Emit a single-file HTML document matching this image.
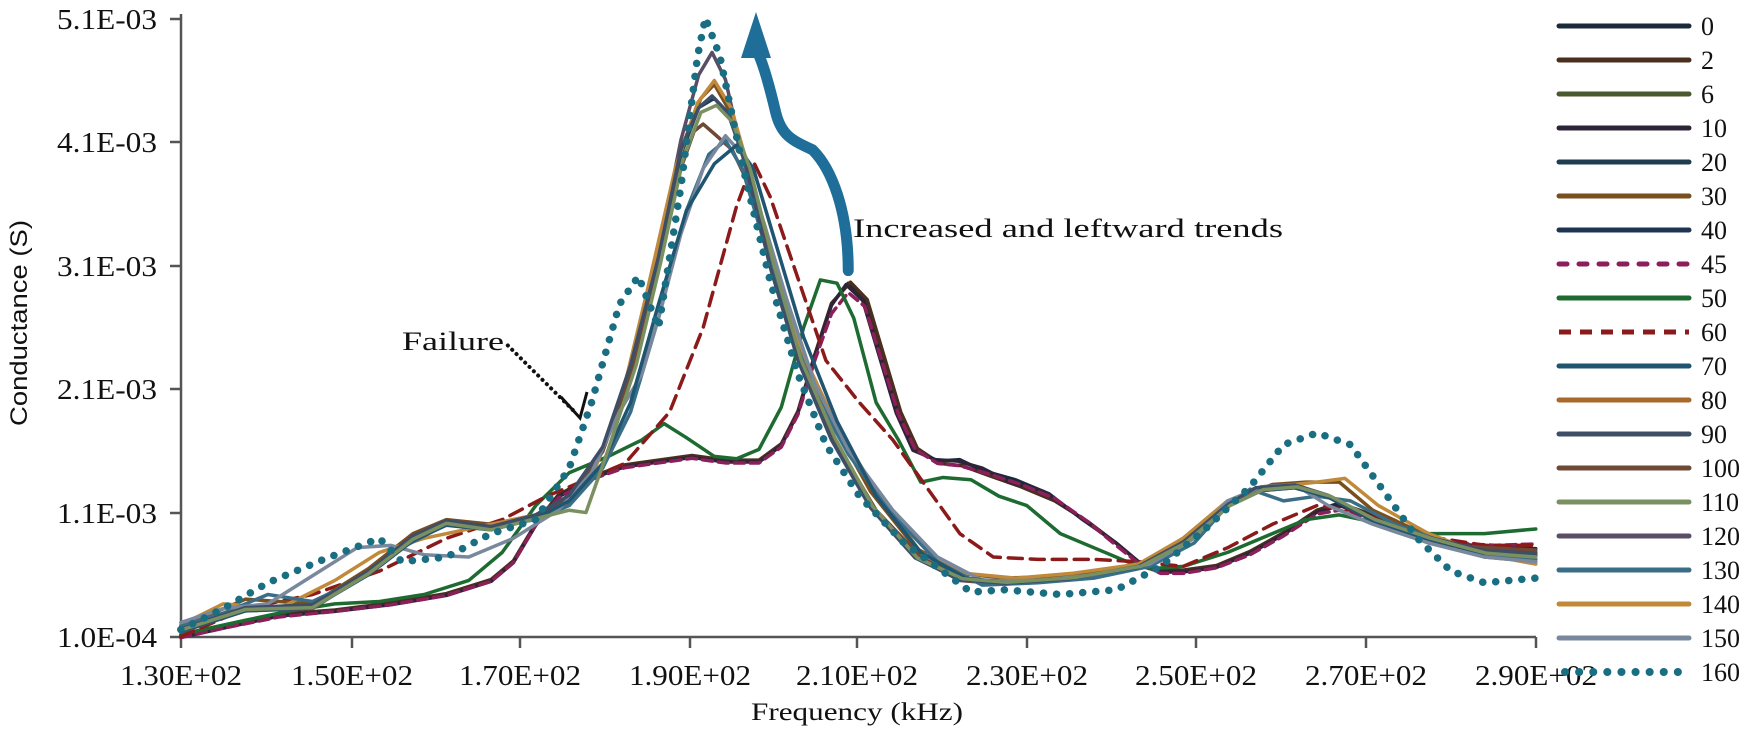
<!DOCTYPE html>
<html><head><meta charset="utf-8"><style>
html,body{margin:0;padding:0;background:#fff;}
svg{display:block;}
text{font-family:"Liberation Serif",serif;fill:#111;}
</style></head><body>
<svg width="1750" height="734" viewBox="0 0 1750 734" xmlns="http://www.w3.org/2000/svg">
<g stroke="#555" stroke-width="2.5" fill="none">
<line x1="181" y1="14" x2="181" y2="637"/>
<line x1="181" y1="637" x2="1536" y2="637"/>
<line x1="170" y1="19" x2="181" y2="19"/><line x1="170" y1="142" x2="181" y2="142"/><line x1="170" y1="266" x2="181" y2="266"/><line x1="170" y1="389" x2="181" y2="389"/><line x1="170" y1="513" x2="181" y2="513"/><line x1="170" y1="637" x2="181" y2="637"/>
<line x1="181" y1="637" x2="181" y2="648"/><line x1="352" y1="637" x2="352" y2="648"/><line x1="520" y1="637" x2="520" y2="648"/><line x1="690" y1="637" x2="690" y2="648"/><line x1="857" y1="637" x2="857" y2="648"/><line x1="1027" y1="637" x2="1027" y2="648"/><line x1="1196" y1="637" x2="1196" y2="648"/><line x1="1366" y1="637" x2="1366" y2="648"/><line x1="1536" y1="637" x2="1536" y2="648"/>
</g>
<g font-size="29" text-anchor="end">
<text x="157" y="29" textLength="100" lengthAdjust="spacingAndGlyphs">5.1E-03</text>
<text x="157" y="152" textLength="100" lengthAdjust="spacingAndGlyphs">4.1E-03</text>
<text x="157" y="276" textLength="100" lengthAdjust="spacingAndGlyphs">3.1E-03</text>
<text x="157" y="399" textLength="100" lengthAdjust="spacingAndGlyphs">2.1E-03</text>
<text x="157" y="523" textLength="100" lengthAdjust="spacingAndGlyphs">1.1E-03</text>
<text x="157" y="647" textLength="100" lengthAdjust="spacingAndGlyphs">1.0E-04</text>
</g>
<g font-size="29" text-anchor="middle">
<text x="181" y="685" textLength="122" lengthAdjust="spacingAndGlyphs">1.30E+02</text>
<text x="352" y="685" textLength="122" lengthAdjust="spacingAndGlyphs">1.50E+02</text>
<text x="520" y="685" textLength="122" lengthAdjust="spacingAndGlyphs">1.70E+02</text>
<text x="690" y="685" textLength="122" lengthAdjust="spacingAndGlyphs">1.90E+02</text>
<text x="857" y="685" textLength="122" lengthAdjust="spacingAndGlyphs">2.10E+02</text>
<text x="1027" y="685" textLength="122" lengthAdjust="spacingAndGlyphs">2.30E+02</text>
<text x="1196" y="685" textLength="122" lengthAdjust="spacingAndGlyphs">2.50E+02</text>
<text x="1366" y="685" textLength="122" lengthAdjust="spacingAndGlyphs">2.70E+02</text>
<text x="1536" y="685" textLength="122" lengthAdjust="spacingAndGlyphs">2.90E+02</text>
<text x="857" y="720" font-size="25" textLength="212" lengthAdjust="spacingAndGlyphs">Frequency (kHz)</text>
</g>
<text transform="translate(27,323) rotate(-90)" font-size="24" text-anchor="middle" textLength="206" lengthAdjust="spacingAndGlyphs" style="font-family:'Liberation Sans',sans-serif">Conductance (S)</text>

<g transform="scale(1.1161,0.4681)" fill="none" stroke-linejoin="round" stroke-linecap="round">
<g stroke-width="3.5">
<polyline vector-effect="non-scaling-stroke" stroke="#1b2a3a" points="162,1360 200,1340 250,1315 300,1305 350,1290 400,1270 440,1240 460,1200 480,1120 500,1060 530,1020 560,995 590,985 620,975 650,985 680,985 700,950 715,880 730,760 745,650 760,605 775,640 790,760 805,880 820,960 840,985 860,982 880,1005 910,1025 940,1055 970,1110 1000,1160 1020,1200 1040,1220 1060,1220 1090,1210 1120,1180 1150,1140 1180,1090 1200,1075 1230,1100 1260,1130 1300,1160 1340,1170 1376,1172"/>
<polyline vector-effect="non-scaling-stroke" stroke="#4a2e1e" points="162,1358 200,1338 250,1312 300,1303 350,1288 400,1268 440,1238 460,1198 480,1118 500,1058 530,1018 560,993 590,983 620,973 650,983 680,983 700,948 715,878 730,758 745,648 762,603 777,640 792,760 807,880 822,958 842,990 862,995 885,1015 915,1040 945,1070 975,1115 1000,1160 1020,1200 1040,1218 1060,1218 1090,1208 1120,1178 1150,1138 1180,1090 1205,1080 1235,1105 1265,1135 1300,1160 1340,1175 1376,1180"/>
<polyline vector-effect="non-scaling-stroke" stroke="#2e2438" points="162,1362 200,1342 250,1316 300,1306 350,1292 400,1272 440,1242 460,1202 480,1122 500,1062 530,1022 560,997 590,987 620,977 650,987 680,987 700,952 715,882 730,762 745,652 758,608 773,642 788,762 803,882 818,962 838,982 858,985 880,1000 905,1030 935,1050 965,1100 1000,1160 1020,1200 1040,1222 1060,1222 1090,1212 1120,1182 1150,1142 1180,1094 1200,1080 1230,1104 1260,1134 1300,1165 1340,1178 1376,1182"/>
<polyline vector-effect="non-scaling-stroke" stroke="#8b1f5a" stroke-dasharray="10,6" points="162,1362 200,1342 250,1318 300,1306 350,1292 400,1272 440,1242 460,1202 480,1122 500,1064 530,1024 560,999 590,989 620,979 650,989 680,989 700,955 715,885 730,770 745,670 760,625 775,655 790,770 805,885 820,960 840,990 860,995 885,1012 915,1035 945,1065 975,1115 1000,1165 1020,1203 1040,1225 1060,1225 1090,1213 1120,1185 1150,1145 1180,1098 1200,1090 1230,1110 1260,1138 1300,1160 1340,1165 1376,1162"/>
<polyline vector-effect="non-scaling-stroke" stroke="#1e6b32" points="162,1355 220,1325 260,1305 300,1290 340,1285 380,1270 420,1240 450,1180 480,1080 510,1010 545,975 575,940 595,905 615,935 640,975 660,980 680,960 700,870 720,700 735,598 750,605 765,680 785,860 805,940 825,1030 845,1020 870,1025 895,1060 920,1080 950,1140 980,1170 1010,1200 1030,1215 1060,1210 1100,1180 1140,1140 1170,1110 1200,1100 1240,1120 1280,1140 1330,1140 1376,1130"/>
<polyline vector-effect="non-scaling-stroke" stroke="#8b1a1a" stroke-dasharray="14,8" points="162,1360 220,1300 280,1270 340,1220 400,1150 450,1110 490,1060 520,1030 560,990 600,880 630,700 660,440 675,345 690,420 710,560 740,770 770,860 800,940 830,1040 860,1140 890,1190 930,1195 980,1195 1020,1200 1060,1210 1100,1170 1140,1120 1180,1080 1210,1090 1250,1120 1290,1150 1330,1165 1376,1165"/>
<polyline vector-effect="non-scaling-stroke" stroke="#1e3e50" points="162,1345 220,1300 280,1295 330,1225 370,1150 400,1118 440,1130 480,1105 510,1060 540,960 565,790 590,560 610,330 626,230 640,210 655,250 670,350 690,560 715,760 745,930 780,1080 820,1190 860,1235 900,1245 960,1235 1020,1210 1060,1160 1100,1080 1130,1045 1160,1040 1190,1060 1230,1110 1280,1150 1330,1180 1376,1185"/>
<polyline vector-effect="non-scaling-stroke" stroke="#7a4f1e" points="162,1340 220,1280 280,1290 330,1215 370,1140 400,1110 440,1120 480,1100 510,1075 540,960 565,780 590,540 610,320 628,210 640,180 652,230 668,340 690,560 715,740 745,900 780,1050 820,1170 860,1225 900,1235 960,1230 1020,1208 1060,1150 1100,1070 1140,1035 1170,1030 1200,1030 1230,1090 1280,1145 1330,1190 1376,1200"/>
<polyline vector-effect="non-scaling-stroke" stroke="#5a4e66" points="162,1350 220,1305 280,1300 330,1225 370,1150 400,1120 440,1130 480,1100 510,1060 540,960 565,780 590,540 610,300 626,160 638,112 650,170 665,330 690,560 715,760 745,930 780,1080 820,1190 860,1240 900,1248 960,1238 1020,1212 1060,1160 1100,1080 1130,1040 1160,1035 1190,1060 1230,1110 1280,1150 1330,1180 1376,1185"/>
<polyline vector-effect="non-scaling-stroke" stroke="#c08a3a" points="162,1335 200,1290 250,1300 300,1240 340,1180 380,1150 420,1130 460,1110 500,1090 530,1020 555,870 580,620 605,360 625,220 640,172 655,230 672,370 695,580 720,760 750,910 785,1050 825,1180 865,1225 910,1235 960,1225 1020,1205 1060,1150 1100,1070 1140,1040 1180,1030 1205,1022 1235,1080 1280,1140 1330,1185 1376,1205"/>
<polyline vector-effect="non-scaling-stroke" stroke="#6e4a36" points="162,1342 220,1300 280,1295 330,1222 370,1148 400,1120 440,1128 480,1103 510,1062 540,965 565,800 590,560 610,360 622,280 630,265 642,290 656,320 672,400 695,600 720,790 750,950 785,1090 825,1190 865,1240 905,1245 960,1235 1020,1212 1060,1162 1100,1082 1130,1048 1160,1042 1190,1062 1230,1112 1280,1160 1330,1170 1376,1175"/>
<polyline vector-effect="non-scaling-stroke" stroke="#3a6e88" points="162,1338 200,1310 240,1270 280,1285 320,1240 360,1170 400,1120 440,1125 480,1110 510,1080 540,1000 565,880 590,680 615,450 635,330 650,300 665,360 685,520 705,680 730,840 760,970 800,1100 840,1200 880,1250 930,1245 980,1235 1030,1210 1070,1160 1100,1080 1120,1045 1150,1070 1180,1060 1210,1070 1250,1120 1290,1155 1330,1185 1376,1195"/>
<polyline vector-effect="non-scaling-stroke" stroke="#7a889e" points="162,1330 200,1300 240,1290 280,1230 320,1170 350,1165 380,1185 420,1190 460,1150 500,1090 530,1010 555,880 575,800 590,680 610,500 630,360 650,290 665,330 685,480 705,640 730,820 760,960 800,1090 840,1190 880,1240 930,1240 980,1228 1030,1205 1070,1150 1100,1070 1130,1040 1160,1035 1190,1080 1230,1120 1280,1160 1330,1190 1376,1200"/>
<polyline vector-effect="non-scaling-stroke" stroke="#1f5570" points="162,1348 220,1305 280,1298 330,1228 370,1155 400,1122 440,1132 480,1108 510,1070 540,990 565,860 590,650 615,450 640,350 660,310 675,360 695,520 720,720 750,900 785,1060 825,1180 865,1235 905,1245 960,1235 1020,1212 1060,1162 1100,1082 1130,1048 1160,1042 1190,1062 1230,1112 1280,1152 1330,1182 1376,1188"/>
<polyline vector-effect="non-scaling-stroke" stroke="#3e4e66" points="162,1344 220,1298 280,1292 330,1220 370,1145 400,1112 440,1125 480,1100 510,1058 540,955 565,780 590,550 610,320 626,230 638,205 652,240 668,350 690,570 715,770 745,940 780,1085 820,1192 860,1238 900,1246 960,1236 1020,1210 1060,1158 1100,1078 1125,1042 1160,1036 1190,1058 1230,1108 1280,1148 1330,1176 1376,1182"/>
<polyline vector-effect="non-scaling-stroke" stroke="#7a9060" points="162,1346 220,1302 280,1298 330,1226 370,1152 400,1118 440,1132 480,1108 510,1090 525,1095 545,960 570,780 592,560 612,340 628,240 642,225 656,260 672,360 694,570 718,770 748,935 782,1082 822,1192 862,1236 902,1244 962,1234 1022,1210 1062,1160 1102,1080 1132,1046 1162,1040 1192,1060 1232,1110 1282,1150 1332,1182 1376,1190"/>
</g>
<polyline stroke="#1a6e82" stroke-width="7.5" stroke-dasharray="0.1,13" vector-effect="non-scaling-stroke" points="162,1345 200,1300 240,1245 290,1195 340,1150 360,1200 400,1190 440,1140 480,1110 510,1000 530,860 555,650 572,590 590,700 610,400 625,120 632,38 645,120 665,350 690,600 715,800 740,950 770,1060 810,1160 850,1230 870,1265 900,1260 950,1270 1000,1260 1040,1210 1080,1130 1120,1040 1150,950 1180,925 1210,950 1240,1050 1270,1150 1300,1220 1330,1245 1376,1235"/>
<path d="M760,578 C760,450 745,360 728,320 C710,300 700,290 695,240 C690,190 684,140 680,118" stroke="#1f6e9a" stroke-width="11" vector-effect="non-scaling-stroke"/>
<path d="M455,738 L515,880" stroke="#111" stroke-width="4" stroke-dasharray="0.1,6" vector-effect="non-scaling-stroke"/>
</g>
<polygon points="756,12 741,58 771,58" fill="#1f6e9a"/>
<polyline points="561,397 580,418 587,392" fill="none" stroke="#111" stroke-width="3"/>
<text x="853" y="237" font-size="26" textLength="430" lengthAdjust="spacingAndGlyphs">Increased and leftward trends</text>
<text x="402" y="350" font-size="26" textLength="102" lengthAdjust="spacingAndGlyphs">Failure</text>

<g stroke-width="5" stroke-linecap="round">
<line x1="1559" y1="26" x2="1689" y2="26" stroke="#1b2a3a"/>
<line x1="1559" y1="60" x2="1689" y2="60" stroke="#4a2e1e"/>
<line x1="1559" y1="94" x2="1689" y2="94" stroke="#4a5a2e"/>
<line x1="1559" y1="128" x2="1689" y2="128" stroke="#2e2438"/>
<line x1="1559" y1="162" x2="1689" y2="162" stroke="#1e3e50"/>
<line x1="1559" y1="196" x2="1689" y2="196" stroke="#7a4f1e"/>
<line x1="1559" y1="230" x2="1689" y2="230" stroke="#1f3450"/>
<line x1="1559" y1="264" x2="1689" y2="264" stroke="#8b1f5a" stroke-dasharray="8,12"/>
<line x1="1559" y1="298" x2="1689" y2="298" stroke="#1e6b32"/>
<line x1="1559" y1="332" x2="1689" y2="332" stroke="#8b1a1a" stroke-dasharray="12,9" stroke-linecap="butt"/>
<line x1="1559" y1="366" x2="1689" y2="366" stroke="#1f5570"/>
<line x1="1559" y1="400" x2="1689" y2="400" stroke="#a86a2a"/>
<line x1="1559" y1="434" x2="1689" y2="434" stroke="#3e4e66"/>
<line x1="1559" y1="468" x2="1689" y2="468" stroke="#6e4a36"/>
<line x1="1559" y1="502" x2="1689" y2="502" stroke="#7a9060"/>
<line x1="1559" y1="536" x2="1689" y2="536" stroke="#5a4e66"/>
<line x1="1559" y1="570" x2="1689" y2="570" stroke="#3a6e88"/>
<line x1="1559" y1="604" x2="1689" y2="604" stroke="#c08a3a"/>
<line x1="1559" y1="638" x2="1689" y2="638" stroke="#7a889e"/>
<line x1="1565" y1="672" x2="1689" y2="672" stroke="#1a6e82" stroke-width="8" stroke-dasharray="0.1,14"/>
</g>
<g font-size="26">
<text x="1701" y="35">0</text><text x="1701" y="69">2</text><text x="1701" y="103">6</text><text x="1701" y="137">10</text>
<text x="1701" y="171">20</text><text x="1701" y="205">30</text><text x="1701" y="239">40</text><text x="1701" y="273">45</text>
<text x="1701" y="307">50</text><text x="1701" y="341">60</text><text x="1701" y="375">70</text><text x="1701" y="409">80</text>
<text x="1701" y="443">90</text><text x="1701" y="477">100</text><text x="1701" y="511">110</text><text x="1701" y="545">120</text>
<text x="1701" y="579">130</text><text x="1701" y="613">140</text><text x="1701" y="647">150</text><text x="1701" y="681">160</text>
</g>
</svg>
</body></html>
